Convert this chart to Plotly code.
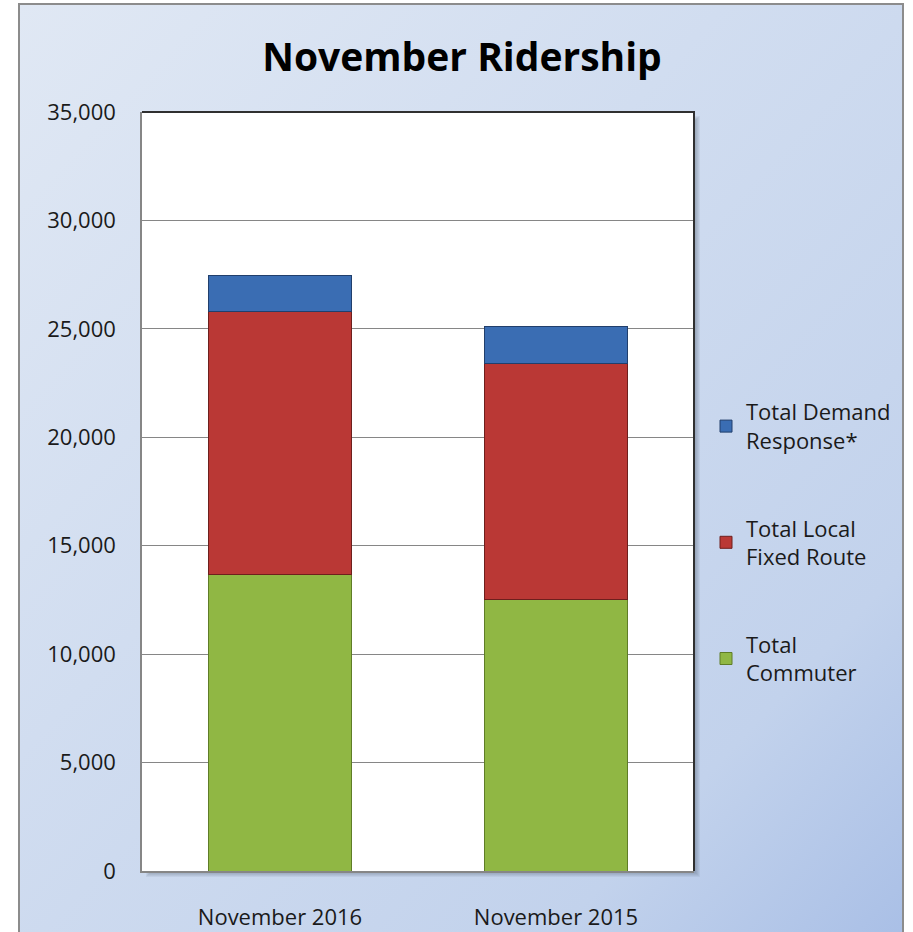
import base64
import plotly.graph_objects as go

categories = ["November 2016", "November 2015"]
commuter = [13650, 12540]
local_fixed = [12130, 10840]
demand = [1660, 1750]
series_names = ["Total<br>Commuter", "Total Local<br>Fixed Route", "Total Demand<br>Response*"]
legend_ranks = [3, 2, 1]
tick_vals = [0, 5000, 10000, 15000, 20000, 25000, 30000, 35000]
tick_text = ["0", "5,000", "10,000", "15,000", "20,000", "25,000", "30,000", "35,000"]

W, H = 913, 932
L, R, T, B = 142, 694, 112, 871
pw, ph = R - L, B - T

svg = (
    f'<svg xmlns="http://www.w3.org/2000/svg" width="{W}" height="{H}">'
    '<defs><linearGradient id="g" x1="0" y1="0" x2="1" y2="1">'
    '<stop offset="0" stop-color="#e0e8f4"/><stop offset="0.8" stop-color="#c2d2ec"/>'
    '<stop offset="1" stop-color="#a9bfe6"/></linearGradient></defs>'
    f'<rect width="{W}" height="{H}" fill="url(#g)"/></svg>'
)
src = "data:image/svg+xml;base64," + base64.b64encode(svg.encode()).decode()

fig = go.Figure()
colors = ["#90b744", "#ba3835", "#3a6db3"]
lines = ["#5f7d27", "#6e1f1d", "#213f6c"]
for name, vals, c, lc, rk in zip(series_names, [commuter, local_fixed, demand], colors, lines, legend_ranks):
    fig.add_trace(go.Bar(
        x=categories, y=vals, name=name, legendgroup=name, legendrank=rk,
        marker=dict(color=c, line=dict(color=lc, width=1)),
    ))

def px_x(v):
    return (v - L) / pw

def px_y(v):
    return (B - v) / ph

shadow = [
    dict(type="rect", xref="paper", yref="paper",
         x0=px_x(L + 4 + i), x1=px_x(R + 6 - i), y0=px_y(B + 6 - i), y1=px_y(T + 4 + i),
         line=dict(width=0), fillcolor="rgba(60,70,90,0.07)", layer="below")
    for i in range(0, 5)
]

font = "Open Sans"
fig.update_layout(
    width=W, height=H,
    margin=dict(l=L, r=W - R, t=T, b=H - B, pad=0, autoexpand=False),
    barmode="stack", bargap=0.48,
    paper_bgcolor="white", plot_bgcolor="white",
    font=dict(family=font, size=22, color="#1a1a1a"),
    title=dict(text="<b>November Ridership</b>", x=462 / W, xanchor="center",
               y=1 - 57 / H, yanchor="middle",
               font=dict(family=font, size=39, color="#000000")),
    legend=dict(
        x=px_x(706), xanchor="left", y=px_y(391), yanchor="top",
        traceorder="grouped", tracegroupgap=56,
        font=dict(family=font, size=22, color="#1a1a1a"),
        bgcolor="rgba(0,0,0,0)", itemwidth=30,
    ),
    xaxis=dict(showline=True, linecolor="#868686", linewidth=1.5,
               ticks="outside", ticklen=26, tickcolor="rgba(0,0,0,0)",
               tickfont=dict(size=22), fixedrange=True, automargin=False),
    yaxis=dict(range=[0, 35000], tickvals=tick_vals, ticktext=tick_text,
               showgrid=True, gridcolor="#868686", gridwidth=1,
               showline=True, linecolor="#868686", linewidth=1.5,
               ticks="outside", ticklen=20, tickcolor="rgba(0,0,0,0)",
               tickfont=dict(size=22), zeroline=False, automargin=False,
               fixedrange=True),
    images=[dict(source=src, xref="paper", yref="paper",
                 x=px_x(19), y=px_y(4),
                 sizex=(903 - 19) / pw, sizey=(H + 10 - 4) / ph,
                 sizing="stretch", xanchor="left", yanchor="top", layer="below")],
    shapes=shadow + [
        # white plot area
        dict(type="rect", xref="paper", yref="paper", x0=0, x1=1, y0=0, y1=1,
             line=dict(width=0), fillcolor="white", layer="below"),
        # outer chart border
        dict(type="rect", xref="paper", yref="paper",
             x0=px_x(19), x1=px_x(903), y0=px_y(H + 6), y1=px_y(4),
             line=dict(color="#8c8c8c", width=2), fillcolor="rgba(0,0,0,0)", layer="above"),
        # plot area top/right dark border
        dict(type="path", xref="paper", yref="paper",
             path="M 0,1 L 1,1 L 1,0", line=dict(color="#303030", width=2), layer="above"),
    ],
)

fig.write_html("out.html", config={"displayModeBar": False},
               post_script="document.body.style.margin='0';")
